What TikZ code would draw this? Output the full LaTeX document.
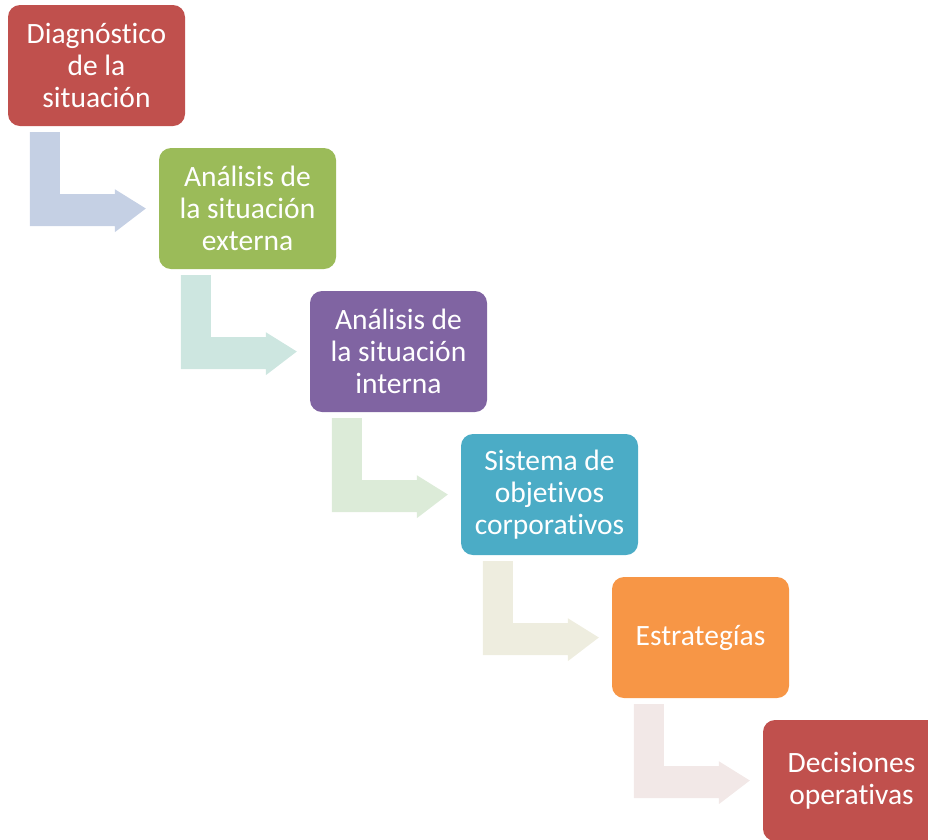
\documentclass[tikz,border=0pt]{standalone}
\usepackage{fontspec}
\setmainfont[Ligatures=NoCommon]{Carlito}
\usetikzlibrary{calc}
\definecolor{cRed}{HTML}{C0504D}
\definecolor{cGreen}{HTML}{9BBB59}
\definecolor{cPurple}{HTML}{8064A2}
\definecolor{cAqua}{HTML}{4BACC6}
\definecolor{cOrange}{HTML}{F79646}
\definecolor{aBlue}{HTML}{C5D0E4}
\definecolor{aTeal}{HTML}{CDE6E0}
\definecolor{aGreen}{HTML}{DCEBD8}
\definecolor{aSand}{HTML}{EEEDDF}
\definecolor{aRose}{HTML}{F2E8E7}
\begin{document}
\begin{tikzpicture}[x=1pt,y=-1pt,
  stagebox/.style={draw=none, rounded corners=12pt, minimum width=177pt,
    minimum height=121pt, inner sep=0pt, align=center, text=white,
    font=\fontsize{29.5}{32}\selectfont},
  bentarrow/.style={draw=none}]
\useasboundingbox (0,0) rectangle (928,839);
\clip (0,0) rectangle (928,839);
% stages of the planning process, stepped down to the right
\node[stagebox, fill=cRed]    (b0) at (96.5,65.5)  {Diagnóstico\\de la\\situación};
\node[stagebox, fill=cGreen]  (b1) at (247.5,208.5) {Análisis de\\la situación\\externa};
\node[stagebox, fill=cPurple] (b2) at (398.5,351.5) {Análisis de\\la situación\\interna};
\node[stagebox, fill=cAqua]   (b3) at (549.5,494.5) {Sistema de\\objetivos\\corporativos};
\node[stagebox, fill=cOrange] (b4) at (700.5,637.5) {Estrategías};
\node[stagebox, fill=cRed]    (b5) at (851.5,780.5) {Decisiones\\operativas};
% bent arrows linking each stage to the next
\foreach \a/\b/\c in {b0/b1/aBlue, b1/b2/aTeal, b2/b3/aGreen, b3/b4/aSand, b4/b5/aRose}{
  \fill[bentarrow, fill=\c]
    ($(\a.south west)+(22,6)$) -- ($(\a.south west)+(52,6)$)
    -- ($(\a.south west)+(52,68)$) -- ($(\a.south west)+(107,68)$)
    -- ($(\a.south west)+(107,63)$) -- ($(\b.west)+(-13,0)$)
    -- ($(\a.south west)+(107,106)$) -- ($(\a.south west)+(107,100)$)
    -- ($(\a.south west)+(22,100)$) -- cycle;
}
\end{tikzpicture}
\end{document}
